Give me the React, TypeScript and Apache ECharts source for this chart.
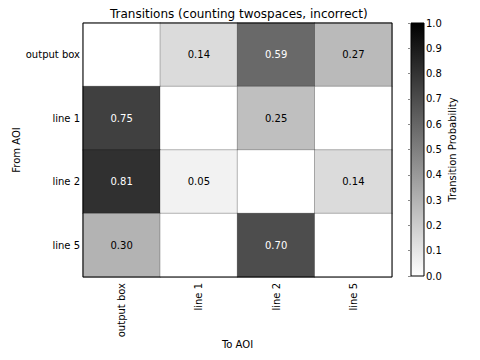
import React, { useEffect, useRef } from "react";
import * as echarts from "echarts";

const fromAOI = ["output box", "line 1", "line 2", "line 5"];
const toAOI = ["output box", "line 1", "line 2", "line 5"];
// rows: from, columns: to
const probOutputBox = [0, 0.14, 0.59, 0.27];
const probLine1 = [0.75, 0, 0.25, 0];
const probLine2 = [0.81, 0.05, 0, 0.14];
const probLine5 = [0.3, 0, 0.7, 0];
const colorbarTicks = [0, 0.1, 0.2, 0.3, 0.4, 0.5, 0.6, 0.7, 0.8, 0.9, 1.0];

const FONT = "DejaVu Sans";

export default function App() {
  const ref = useRef<HTMLDivElement>(null);
  useEffect(() => {
    if (!ref.current) return;
    const chart = echarts.init(ref.current, undefined, { renderer: "svg" });
    const rows = [probOutputBox, probLine1, probLine2, probLine5];
    const data: any[] = [];
    rows.forEach((row, r) => {
      row.forEach((v, c) => {
        data.push({
          value: [c, r, v],
          label: { color: v >= 0.5 ? "#ffffff" : "#000000" },
        });
      });
    });
    const tickStyle = { show: true, alignWithLabel: true, inside: true, length: 3, lineStyle: { color: "#888" } };
    chart.setOption({
      animation: false,
      backgroundColor: "#ffffff",
      textStyle: { fontFamily: FONT },
      title: {
        text: "Transitions (counting twospaces, incorrect)",
        left: 105,
        top: 3,
        textStyle: { fontFamily: FONT, fontSize: 12, fontWeight: "normal", color: "#000" },
      },
      grid: [
        { left: 83, top: 23, width: 309, height: 254, show: true, borderColor: "#000", borderWidth: 1, backgroundColor: "transparent", z: 5, outerBoundsMode: "none", containLabel: false },
        {
          left: 411, top: 23, width: 13, height: 253, show: true, borderColor: "#000", borderWidth: 1, outerBoundsMode: "none", containLabel: false,
          backgroundColor: {
            type: "linear", x: 0, y: 0, x2: 0, y2: 1,
            colorStops: [{ offset: 0, color: "#000000" }, { offset: 1, color: "#ffffff" }],
          },
        },
      ],
      xAxis: [
        {
          type: "category", gridIndex: 0, data: toAOI,
          name: "To AOI", nameLocation: "middle", nameGap: 62, nameMoveOverlap: false,
          nameTextStyle: { fontFamily: FONT, fontSize: 10, color: "#000" },
          axisLine: { show: false },
          axisTick: tickStyle,
          axisLabel: { rotate: 90, fontFamily: FONT, fontSize: 10, color: "#000", margin: 6 },
          splitLine: { show: false },
        },
        {
          type: "value", gridIndex: 1, show: false,
        },
        {
          type: "category", gridIndex: 0, data: toAOI, position: "top",
          axisLine: { show: false }, axisTick: tickStyle, axisLabel: { show: false }, splitLine: { show: false },
        },
      ],
      yAxis: [
        {
          type: "category", gridIndex: 0, data: fromAOI, inverse: true,
          name: "From AOI", nameLocation: "middle", nameGap: 62, nameRotate: 90, nameMoveOverlap: false,
          nameTextStyle: { fontFamily: FONT, fontSize: 10, color: "#000" },
          axisLine: { show: false },
          axisTick: tickStyle,
          axisLabel: { fontFamily: FONT, fontSize: 10, color: "#000", margin: 3 },
          splitLine: { show: false },
        },
        {
          type: "value", gridIndex: 1, min: 0, max: 1, interval: 0.1, position: "right",
          name: "Transition Probability", nameLocation: "middle", nameGap: 23, nameRotate: 90, nameMoveOverlap: false,
          nameTextStyle: { fontFamily: FONT, fontSize: 10, color: "#000" },
          axisLine: { show: false },
          axisTick: { show: true, inside: true, length: 3, lineStyle: { color: "#888" } },
          axisLabel: {
            fontFamily: FONT, fontSize: 10, color: "#000", margin: 2,
            formatter: (v: number) => (colorbarTicks.some((t) => Math.abs(t - v) < 1e-9) ? v.toFixed(1) : ""),
          },
          splitLine: { show: false },
        },
        {
          type: "category", gridIndex: 0, data: fromAOI, inverse: true, position: "right",
          axisLine: { show: false }, axisTick: tickStyle, axisLabel: { show: false }, splitLine: { show: false },
        },
      ],
      visualMap: {
        show: false, min: 0, max: 1, dimension: 2, seriesIndex: 0,
        inRange: { color: ["#ffffff", "#000000"] },
      },
      series: [
        {
          type: "heatmap", xAxisIndex: 0, yAxisIndex: 0, data,
          itemStyle: { borderColor: "rgba(0,0,0,0.25)", borderWidth: 1 },
          label: {
            show: true, fontFamily: FONT, fontSize: 10,
            formatter: (p: any) => (p.value[2] === 0 ? "" : p.value[2].toFixed(2)),
          },
          emphasis: { disabled: true },
        },
      ],
    });
    return () => chart.dispose();
  }, []);
  return <div ref={ref} style={{ width: 480, height: 360, position: "absolute", left: 0, top: 0 }} />;
}
